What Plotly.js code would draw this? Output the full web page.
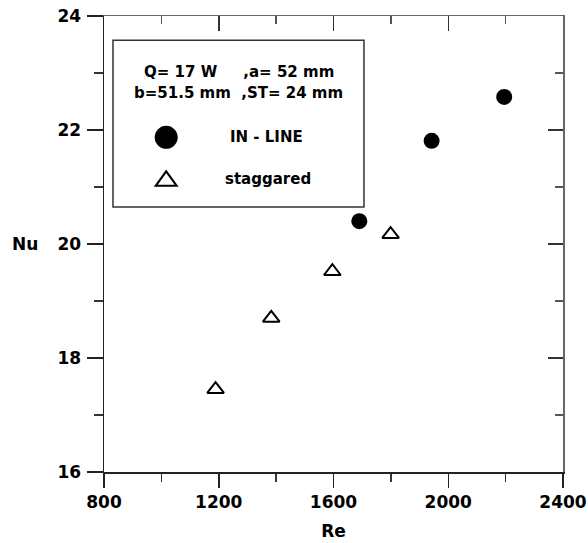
<!DOCTYPE html>
<html>
<head>
<meta charset="utf-8">
<script src="https://cdn.plot.ly/plotly-3.0.1.min.js"></script>
<style>html,body{margin:0;padding:0;background:#fff;}#chart{width:588px;height:543px;}</style>
</head>
<body>
<div id="chart"></div>
<script>
// ---- data ----
const inlineName = "IN - LINE";
const inlineRe = [1690, 1942, 2195];
const inlineNu = [20.40, 21.81, 22.58];

const staggName = "staggared";
const staggRe = [1189, 1383, 1596, 1799];
const staggNu = [17.45, 18.70, 19.52, 20.17];

const infoLine1 = "Q= 17 W\u00a0\u00a0\u00a0\u00a0\u00a0,a= 52 mm";
const infoLine2 = "b=51.5 mm\u00a0\u00a0,ST= 24 mm";

const xTitle = "Re";
const yTitle = "Nu";
const xRange = [800, 2400];
const yRange = [16, 24];

// ---- style ----
const FONT = "DejaVu Sans, Arial, sans-serif";
const tickFont = {family: FONT, size: 17, color: "#000", weight: "bold"};
const legFont = {family: FONT, size: 15, color: "#000", weight: "bold"};

const traces = [
  {
    x: inlineRe, y: inlineNu, name: inlineName, type: "scatter", mode: "markers",
    marker: {symbol: "circle", size: 16, color: "#000"},
    hoverinfo: "x+y"
  },
  {
    x: staggRe, y: staggNu, name: staggName, type: "scatter", mode: "markers",
    marker: {symbol: "triangle-up-open", size: 14.5, color: "#000", line: {width: 2, color: "#000"}},
    hoverinfo: "x+y"
  },
  {x: [], y: [], xaxis: "x2", yaxis: "y2", showlegend: false, hoverinfo: "skip", type: "scatter"}
];

const legX = 0.1355;   // centre of legend symbols (paper)
const layout = {
  width: 588, height: 543,
  margin: {l: 104, r: 25, t: 16, b: 71},
  paper_bgcolor: "#fff", plot_bgcolor: "#fff",
  showlegend: false,
  font: {family: FONT, color: "#000"},
  xaxis: {
    range: xRange, dtick: 400, tick0: 800, showgrid: false, zeroline: false,
    showline: true, linecolor: "#222", linewidth: 1.5,
    ticks: "outside", ticklen: 14, tickwidth: 1.5, tickcolor: "#222",
    minor: {dtick: 200, ticks: "outside", ticklen: 8, tickwidth: 1.5, tickcolor: "#333", showgrid: false},
    tickfont: tickFont,
    title: {text: xTitle, font: {family: FONT, size: 17, weight: "bold", color: "#000"}, standoff: 14}
  },
  yaxis: {
    range: yRange, dtick: 2, tick0: 16, showgrid: false, zeroline: false,
    showline: true, linecolor: "#222", linewidth: 1.5,
    ticks: "outside", ticklen: 16, tickwidth: 1.5, tickcolor: "#222",
    minor: {dtick: 1, ticks: "outside", ticklen: 9, tickwidth: 1.5, tickcolor: "#333", showgrid: false},
    tickfont: tickFont, ticklabelstandoff: 2
  },
  xaxis2: {
    overlaying: "x", side: "top", anchor: "y2", range: xRange, dtick: 400, tick0: 800,
    showgrid: false, zeroline: false, showticklabels: false,
    showline: true, linecolor: "#666", linewidth: 1.5,
    ticks: "inside", ticklen: 15, tickwidth: 1.5, tickcolor: "#333",
    minor: {dtick: 200, ticks: "inside", ticklen: 8, tickwidth: 1.5, tickcolor: "#555", showgrid: false}
  },
  yaxis2: {
    overlaying: "y", side: "right", anchor: "x2", range: yRange, dtick: 2, tick0: 16,
    showgrid: false, zeroline: false, showticklabels: false,
    showline: true, linecolor: "#666", linewidth: 1.5,
    ticks: "inside", ticklen: 15, tickwidth: 1.5, tickcolor: "#333",
    minor: {dtick: 1, ticks: "inside", ticklen: 8, tickwidth: 1.5, tickcolor: "#555", showgrid: false}
  },
  shapes: [
    {type: "rect", xref: "paper", yref: "paper", x0: 0.0196, x1: 0.5664, y0: 0.581, y1: 0.947,
     line: {color: "#333", width: 1.5}, fillcolor: "rgba(0,0,0,0)"},
    {type: "circle", xref: "paper", yref: "paper", xsizemode: "pixel", ysizemode: "pixel",
     xanchor: legX, yanchor: 0.734, x0: -11.5, x1: 11.5, y0: -11.5, y1: 11.5,
     line: {width: 0}, fillcolor: "#000"},
    {type: "path", xref: "paper", yref: "paper", xsizemode: "pixel", ysizemode: "pixel",
     xanchor: legX, yanchor: 0.643, path: "M-10.5,-7 L10.5,-7 L0,7.5 Z",
     line: {width: 2, color: "#000"}, fillcolor: "rgba(0,0,0,0)"}
  ],
  annotations: [
    {text: infoLine1, xref: "paper", yref: "paper", x: 0.294, y: 0.877, showarrow: false,
     xanchor: "center", yanchor: "middle", font: legFont},
    {text: infoLine2, xref: "paper", yref: "paper", x: 0.294, y: 0.831, showarrow: false,
     xanchor: "center", yanchor: "middle", font: legFont},
    {text: inlineName, xref: "paper", yref: "paper", x: 0.355, y: 0.734, showarrow: false,
     xanchor: "center", yanchor: "middle", font: legFont},
    {text: staggName, xref: "paper", yref: "paper", x: 0.357, y: 0.643, showarrow: false,
     xanchor: "center", yanchor: "middle", font: legFont},
    {text: yTitle, xref: "paper", yref: "paper", x: -0.172, y: 0.5, showarrow: false,
     xanchor: "center", yanchor: "middle", font: {family: FONT, size: 17, weight: "bold", color: "#000"}}
  ]
};

Plotly.newPlot("chart", traces, layout, {displayModeBar: false, staticPlot: true});
</script>
</body>
</html>
